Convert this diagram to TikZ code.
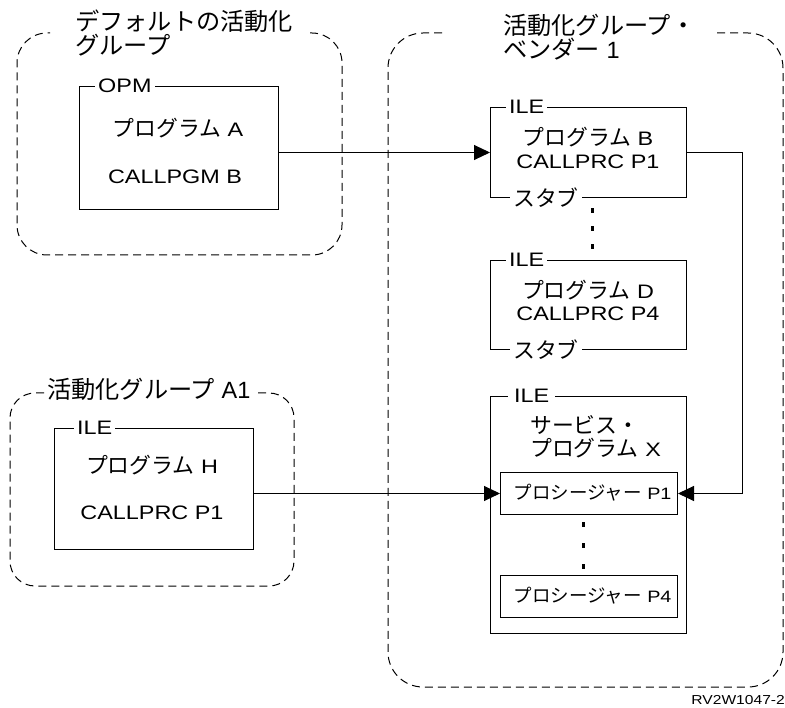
\documentclass[tikz,border=0pt]{standalone}
\usepackage{fontspec}
\setmainfont{Liberation Sans}[FakeStretch=1.2]
\newfontfamily\ttlfont{Liberation Sans}
\newfontfamily\jpfont{Noto Sans CJK JP}[Scale=1.12]
\newfontfamily\jpbig{Noto Sans CJK JP}[Scale=1.03]
\newcommand\jp[1]{{\jpfont #1}}
\newcommand\jq[1]{{\jpbig #1}}
\usetikzlibrary{arrows.meta,positioning}

\begin{document}
\begin{tikzpicture}[x=1pt,y=-1pt,
  font=\fontsize{19.5}{23.5}\selectfont,
  grp/.style={line width=1pt, dash pattern=on 8pt off 5pt},
  box/.style={draw, line width=1pt, anchor=north west, inner sep=0pt},
  lbl/.style={fill=white, inner xsep=3pt, inner ysep=0pt},
  ttl/.style={align=left, inner sep=0pt, font=\ttlfont\fontsize{23.5}{23.5}\selectfont},
  arr/.style={line width=1pt, -{Triangle[length=16pt,width=15pt]}}]
\useasboundingbox (0,0) rectangle (785,708);

% activation groups
\draw[grp, rounded corners=30pt] (310,33) -- (342,33) -- (342,255) -- (17,255) -- (17,33) -- (50,33);
\draw[grp, rounded corners=35pt] (717,33) -- (783,33) -- (783,687) -- (388,687) -- (388,33) -- (442,33);
\draw[grp, rounded corners=25pt] (258,393) -- (294,393) -- (294,586) -- (10,586) -- (10,393) -- (44,393);

\node[ttl, anchor=north west] (tdef) at (75,10) {\jq{デフォルトの活動化}\\\jq{グループ}};
\node[ttl, anchor=north west] (tven) at (503,14) {\jq{活動化グループ・}\\\jq{ベンダー} 1};
\node[ttl, anchor=west] (ta1) at (47,389) {\jq{活動化グループ} A1};

% programs
\node[box, minimum width=199pt, minimum height=123pt] (opm) at (79,86) {};
\node[lbl, right=16pt of opm.north west] (opml) {OPM};
\node (pa) at (178,128) {\jp{プログラム} A};
\node (ca) at (175,177) {CALLPGM B};

\node[box, minimum width=196pt, minimum height=90pt] (ileb) at (490,107) {};
\node[lbl, right=16pt of ileb.north west] (ilebl) {ILE};
\node[lbl, right=20pt of ileb.south west] (stubb) {\jp{スタブ}};
\node (pb) at (588,137) {\jp{プログラム} B};
\node (cb) at (588,162) {CALLPRC P1};

\node[box, minimum width=196pt, minimum height=89pt] (iled) at (490,260) {};
\node[lbl, right=16pt of iled.north west] (iledl) {ILE};
\node[lbl, right=20pt of iled.south west] (stubd) {\jp{スタブ}};
\node (pd) at (588,290) {\jp{プログラム} D};
\node (cd) at (588,314) {CALLPRC P4};

\node[box, minimum width=196pt, minimum height=237pt] (srv) at (490,396) {};
\node[lbl, inner xsep=6pt, right=18pt of srv.north west] (srvl) {ILE};
\node[ttl, anchor=west, font=\fontsize{19.5}{23}\selectfont] (psx) at (530,437) {\jp{サービス・}\\\jp{プログラム} X};
\node[box, minimum width=177pt, minimum height=42pt] (p1) at (500,472) {};
\node[anchor=east, font=\fontsize{16.5}{20}\selectfont] (p1t) at (675,493) {\jp{プロシージャー} P1};
\node[box, minimum width=177pt, minimum height=42pt] (p4) at (500,575) {};
\node[anchor=east, font=\fontsize{16.5}{20}\selectfont] (p4t) at (675,596) {\jp{プロシージャー} P4};

\node[box, minimum width=199pt, minimum height=121pt] (ileh) at (54,428) {};
\node[lbl, right=20pt of ileh.north west] (ilehl) {ILE};
\node (ph) at (152,465) {\jp{プログラム} H};
\node (ch) at (152,513) {CALLPRC P1};

% dots
\foreach \y in {211,229,247}
  \fill (591,\y-2.5) rectangle ++(2.5,5);
\foreach \y in {525,545,566}
  \fill (582,\y-2.5) rectangle ++(2.5,5);

% calls
\draw[arr] (opm.east |- ileb.west) -- (ileb.west);
\draw[arr] (ileb.east) -- ++(55,0) |- (p1.east);
\draw[arr] (ileh.east |- p1.west) -- (p1.west);

\node[anchor=east, inner sep=0pt, font=\fontsize{13}{15}\selectfont] (fig) at (785,700) {RV2W1047-2};
\end{tikzpicture}
\end{document}
